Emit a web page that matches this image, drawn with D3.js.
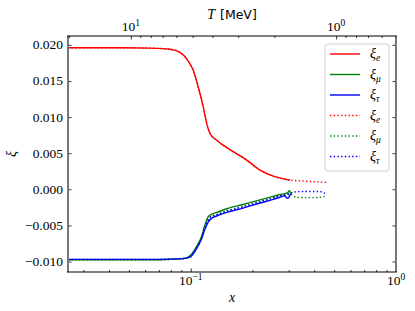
<!DOCTYPE html>
<html><head><meta charset="utf-8">
<script src="https://cdn.jsdelivr.net/npm/d3@7"></script>
<style>
body{margin:0;background:#fff}
svg{display:block}
</style>
</head><body>
<svg id="c" width="415" height="311" font-family="'Liberation Serif', 'DejaVu Serif', serif"></svg>
<script>
// ---------- data ----------
const xE  = [0.02525,0.045,0.0634,0.0793,0.0887,0.0956,0.1030,0.1089,0.1152,0.1197,0.1242,0.1338,0.1553,0.1874,0.2176,0.2525,0.3046];
const yE  = [0.0196,0.0196,0.01955,0.0194,0.01896,0.01805,0.01644,0.01414,0.01138,0.0091,0.00772,0.0068,0.0055,0.00404,0.00266,0.00183,0.00128];
const xMu = [0.02525,0.07,0.0917,0.0992,0.1069,0.1131,0.1174,0.1218,0.1265,0.1338,0.1498,0.1798,0.2176,0.2518,0.2723,0.2877,0.2960,0.3025,0.3080];
const yMu = [-0.00975,-0.00975,-0.0096,-0.0092,-0.0079,-0.0065,-0.0049,-0.0038,-0.00345,-0.0032,-0.0027,-0.0021,-0.00146,-0.00098,-0.00072,-0.0006,-0.0005,-0.0002,-0.0008];
const xTau = [0.02525,0.07,0.0917,0.0992,0.1069,0.1131,0.1174,0.1218,0.1265,0.1338,0.1498,0.1798,0.2176,0.2518,0.2723,0.2877,0.2935,0.2990,0.3040,0.3080];
const yTau = [-0.0097,-0.0097,-0.0096,-0.0094,-0.0082,-0.0068,-0.0055,-0.0045,-0.0040,-0.0037,-0.0032,-0.0026,-0.0019,-0.0014,-0.0011,-0.0009,-0.0012,-0.0012,-0.0008,-0.00065];
const xEd  = [0.02525,0.045,0.0634,0.0793,0.0887,0.0956,0.1030,0.1089,0.1152,0.1197,0.1242,0.1338,0.1553,0.1874,0.2176,0.2525,0.3046,0.35,0.40,0.457];
const yEd  = [0.0196,0.0196,0.01955,0.0194,0.01896,0.01805,0.01644,0.01414,0.01138,0.0091,0.00772,0.0068,0.0055,0.00404,0.00266,0.00183,0.00128,0.00115,0.00105,0.00096];
const xMuD = [0.02525,0.07,0.0917,0.0992,0.1069,0.1131,0.1174,0.1218,0.1265,0.1338,0.1498,0.1798,0.2176,0.2518,0.2723,0.2877,0.3046,0.3150,0.3260,0.3600,0.4000,0.4350,0.4470,0.4530];
const yMuD = [-0.00975,-0.00975,-0.0096,-0.0093,-0.0081,-0.0067,-0.0052,-0.0042,-0.0037,-0.0035,-0.0030,-0.0024,-0.0017,-0.0012,-0.0009,-0.00075,-0.0006,-0.0009,-0.0011,-0.00115,-0.00115,-0.0011,-0.0010,-0.0008];
const xTauD = [0.02525,0.07,0.0917,0.0992,0.1069,0.1131,0.1174,0.1218,0.1265,0.1338,0.1498,0.1798,0.2176,0.2518,0.2723,0.2877,0.3046,0.3150,0.3260,0.3600,0.4000,0.4350,0.4470,0.4530];
const yTauD = [-0.0097,-0.0097,-0.0096,-0.0093,-0.0081,-0.0067,-0.0052,-0.0042,-0.0037,-0.0035,-0.0030,-0.0024,-0.0017,-0.0012,-0.0009,-0.00075,-0.0006,-0.0004,-0.00035,-0.0003,-0.0003,-0.00035,-0.0005,-0.0008];

const yTicks = [-0.010,-0.005,0.000,0.005,0.010,0.015,0.020];
const xMajor = [0.1,1];
const xMajorExp = ["−1","0"];
const xMinor = [0.03,0.04,0.05,0.06,0.07,0.08,0.09,0.2,0.3,0.4,0.5,0.6,0.7,0.8,0.9];
const tMajor = [10,1];
const tMajorExp = ["1","0"];
const tMinor = [20,9,8,7,6,5,4,3,2,0.9,0.8,0.7,0.6];
const me = 0.511;

const seriesNames = ["e","μ","τ","e","μ","τ"];
const seriesColors = ["#ff0000","#008000","#0000ff","#ff0000","#008000","#0000ff"];
const seriesDash = [null,null,null,"1.4,2.3","1.4,2.3","1.4,2.3"];

// ---------- layout ----------
const L=68,R=396,T=36,B=272;
const SERIF = "'Liberation Serif', 'DejaVu Serif', serif";
const svg = d3.select("#c");
svg.append("rect").attr("width",415).attr("height",311).attr("fill","#fff");

const x = d3.scaleLog().domain([0.02525,1]).range([L,R]);
const xT = d3.scaleLog().domain([me/0.02525, me/1]).range([L,R]);
const y = d3.scaleLinear().domain([-0.011454,0.02123]).range([B,T]);

const series = [
  [xE,yE],[xMu,yMu],[xTau,yTau],[xEd,yEd],[xMuD,yMuD],[xTauD,yTauD]
];
const line = d3.line().x(d=>x(d[0])).y(d=>y(d[1])).curve(d3.curveMonotoneX);

const plot = svg.append("g");
series.forEach((s,i)=>{
  const pts = s[0].map((v,j)=>[v,s[1][j]]);
  const p = plot.append("path").datum(pts).attr("d",line)
    .attr("fill","none").attr("stroke",seriesColors[i]).attr("stroke-width",1.4)
    .attr("stroke-linejoin","round");
  if(seriesDash[i]) p.attr("stroke-dasharray",seriesDash[i]);
});

// ---------- axes (ticks inward) ----------
function clean(g){ g.select(".domain").remove(); g.selectAll("text").remove(); g.selectAll("line").attr("stroke","#000").attr("stroke-width",0.8); }
svg.append("g").attr("transform",`translate(0,${B})`).call(d3.axisBottom(x).tickValues(xMajor).tickSize(-3.5).tickFormat("")).call(clean);
svg.append("g").attr("transform",`translate(0,${B})`).call(d3.axisBottom(x).tickValues(xMinor).tickSize(-2).tickFormat("")).call(clean);
svg.append("g").attr("transform",`translate(0,${T})`).call(d3.axisTop(xT).tickValues(tMajor).tickSize(-3.5).tickFormat("")).call(clean);
svg.append("g").attr("transform",`translate(0,${T})`).call(d3.axisTop(xT).tickValues(tMinor).tickSize(-2).tickFormat("")).call(clean);
svg.append("g").attr("transform",`translate(${L},0)`).call(d3.axisLeft(y).tickValues(yTicks).tickSize(-3.5).tickFormat("")).call(clean);
svg.append("g").attr("transform",`translate(${R},0)`).call(d3.axisRight(y).tickValues(yTicks).tickSize(-3.5).tickFormat("")).call(clean);

// spines
svg.append("line").attr("x1",L).attr("x2",L).attr("y1",T).attr("y2",B).attr("stroke","#777").attr("stroke-width",2);
svg.append("line").attr("x1",R).attr("x2",R).attr("y1",T).attr("y2",B).attr("stroke","#777").attr("stroke-width",2);
svg.append("line").attr("x1",L-1).attr("x2",R+1).attr("y1",T).attr("y2",T).attr("stroke","#000").attr("stroke-width",1);
svg.append("line").attr("x1",L-1).attr("x2",R+1).attr("y1",B).attr("y2",B).attr("stroke","#000").attr("stroke-width",1);

// y tick labels
const fmt = d3.format(".3f");
svg.append("g").selectAll("text").data(yTicks).join("text")
  .attr("font-family",SERIF)
  .attr("x",L-5).attr("y",d=>y(d)+4.5).attr("text-anchor","end").attr("font-size",13.5)
  .text(d=>fmt(d).replace("-","−"));

// bottom tick labels
xMajor.forEach((v,i)=>{
  const t = svg.append("text").attr("font-family",SERIF).attr("x",x(v)).attr("y",285).attr("text-anchor","middle").attr("font-size",13.5);
  t.append("tspan").text("10");
  t.append("tspan").attr("dy",-5).attr("font-size",9.5).text(xMajorExp[i]);
});
// top tick labels
tMajor.forEach((v,i)=>{
  const t = svg.append("text").attr("font-family",SERIF).attr("x",xT(v)).attr("y",30.5).attr("text-anchor","middle").attr("font-size",13.5);
  t.append("tspan").text("10");
  t.append("tspan").attr("dy",-5).attr("font-size",9.5).text(tMajorExp[i]);
});

// axis labels
svg.append("text").attr("font-family",SERIF).attr("x",(L+R)/2).attr("y",302).attr("text-anchor","middle")
  .attr("font-size",14).attr("font-style","italic").text("x");
const tl = svg.append("text").attr("font-family",SERIF).attr("x",(L+R)/2).attr("y",18.5).attr("text-anchor","middle").attr("font-size",14);
tl.append("tspan").attr("font-style","italic").text("T");
tl.append("tspan").attr("dx",5).attr("font-family","'DejaVu Sans', sans-serif").attr("font-size",12.5).text("[MeV]");
svg.append("text").attr("font-family",SERIF).attr("transform",`translate(16,${(T+B)/2}) rotate(-90)`).attr("text-anchor","middle")
  .attr("font-size",14).attr("font-style","italic").text("ξ");

// legend
const lg = svg.append("g");
lg.append("rect").attr("x",325).attr("y",44).attr("width",64).attr("height",127).attr("rx",3)
  .attr("fill","#fff").attr("fill-opacity",0.8).attr("stroke","#d0d0d0").attr("stroke-width",1);
seriesNames.forEach((n,i)=>{
  const yy = 54 + i*20.5;
  const l = lg.append("line").attr("x1",330).attr("x2",360).attr("y1",yy).attr("y2",yy)
    .attr("stroke",seriesColors[i]).attr("stroke-width",1.4);
  if(seriesDash[i]) l.attr("stroke-dasharray",seriesDash[i]);
  const t = lg.append("text").attr("font-family",SERIF).attr("x",370).attr("y",yy+4).attr("font-size",14).attr("font-style","italic");
  t.append("tspan").text("ξ");
  t.append("tspan").attr("dy",3).attr("font-size",9.5).text(n);
});
</script>
</body></html>
